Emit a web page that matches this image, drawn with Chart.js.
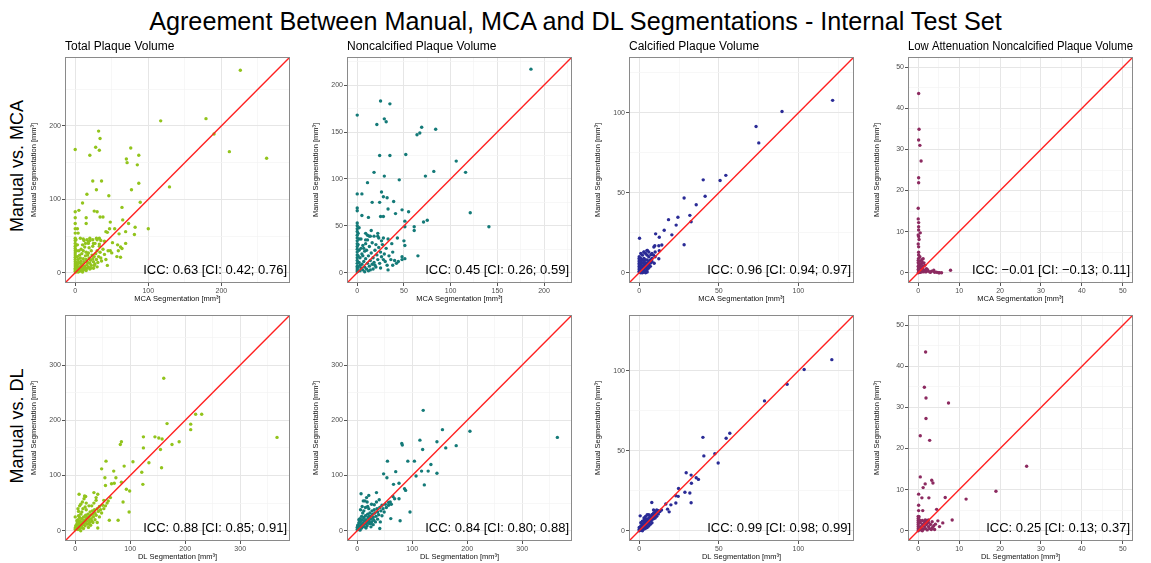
<!DOCTYPE html>
<html>
<head>
<meta charset="utf-8">
<script src="https://cdn.jsdelivr.net/npm/chart.js@4"></script>
<style>
  body { margin: 0; background: #fff; font-family: "Liberation Sans", Arial, Helvetica, sans-serif; }
  #page { position: relative; width: 1151px; height: 563px; overflow: hidden; }
  .main-title { position: absolute; left: 0; top: 6px; width: 1151px; text-align: center; font-size: 25.2px; line-height: 30px; color: #000; }
  .row-label { position: absolute; width: 200px; height: 22px; line-height: 22px; text-align: center; font-size: 18px; color: #000; transform: rotate(-90deg); }
  canvas.panel { position: absolute; }
</style>
</head>
<body>
<div id="page">
  <div class="main-title">Agreement Between Manual, MCA and DL Segmentations - Internal Test Set</div>
</div>
<script>
// ---- labels ----
const panelTitles = ['Total Plaque Volume', 'Noncalcified Plaque Volume', 'Calcified Plaque Volume', 'Low Attenuation Noncalcified Plaque Volume'];
const rowLabels = ['Manual vs. MCA', 'Manual vs. DL'];
const xTitles = ['MCA Segmentation [mm³]', 'DL Segmentation [mm³]'];
const yTitle = 'Manual Segmentation [mm³]';
const iccMca = ['ICC: 0.63 [CI: 0.42; 0.76]', 'ICC: 0.45 [CI: 0.26; 0.59]', 'ICC: 0.96 [CI: 0.94; 0.97]', 'ICC: \u22120.01 [CI: \u22120.13; 0.11]'];
const iccDl = ['ICC: 0.88 [CI: 0.85; 0.91]', 'ICC: 0.84 [CI: 0.80; 0.88]', 'ICC: 0.99 [CI: 0.98; 0.99]', 'ICC: 0.25 [CI: 0.13; 0.37]'];
const seriesColors = ['#92c41c', '#147a78', '#2a2b96', '#8c2a60'];

// ---- axis data ranges (0..max, expanded 5% like ggplot) ----
const dataMaxMca = [280, 219, 128.5, 50];
const dataMaxDl = [372, 372, 128.5, 50];
const majorMca = [[0, 100, 200], [0, 50, 100, 150, 200], [0, 50, 100], [0, 10, 20, 30, 40, 50]];
const minorMca = [[50, 150, 250], [25, 75, 125, 175, 225], [25, 75, 125], [5, 15, 25, 35, 45]];
const majorDl = [[0, 100, 200, 300], [0, 100, 200, 300], [0, 50, 100], [0, 10, 20, 30, 40, 50]];
const minorDl = [[50, 150, 250, 350], [50, 150, 250, 350], [25, 75, 125], [5, 15, 25, 35, 45]];

// ---- points [x, y] : x = automated segmentation, y = manual ----
const tpvMca = [
  [226,276],[117,207],[179,210],[190,189],[211,165],[262,156],[129,117],[0,168],[32,193],[34,183],[28,171],[33,167],[20,160],
  [76,170],[70,155],[71,150],[87,160],[85,147],[87,122],[77,113],[24,125],[36,125],[29,113],[16,107],[46,105],[89,96],[10,95],
  [64,89],[100,60],[0,83],[5,85],[0,75],[15,75],[26,84],[30,83],[34,76],[38,76],[65,72],[73,67],[82,62],[48,69],[44,55],[42,56],
  [47,60],[54,60],[60,53],[81,52],[69,40],[69,56],[51,41],[58,38],[62,35],[48,30],[62,21],[44,10],[15,67],[3,60],[4,54],[20,47],
  [50,27],[59,30],[64,33],[57,22],[7,47],[11,46],[16,45],[20,44],[24,45],[29,47],[33,47],[35,44],[40,43],[33,39],[25,40],[18,40],
  [0,67],[0,60],[0,54],[0,47],[0,2],[0,4],[0,6],[0,9],[0,12],[0,15],[0,18],[0,21],[0,24],[0,27],[0,30],[0,33],[0,36],[0,40],[0,44],
  [1,1],[2,3],[1,8],[2,14],[3,22],[2,30],[3,38],[1,45],[3,3],[4,6],[5,2],[6,8],[7,5],[8,10],[9,4],[10,12],[11,7],[12,15],[13,9],
  [14,6],[15,18],[16,11],[17,14],[18,8],[19,20],[20,13],[21,17],[22,10],[23,24],[24,19],[25,15],[26,22],[27,12],[28,26],[29,18],
  [30,30],[32,22],[34,28],[36,16],[38,32],[40,25],[5,14],[7,20],[9,26],[11,30],[6,24],[4,18],[8,32],[10,38],[13,35],[15,28],[17,24],
  [19,34],[12,44],[14,40],[20,5],[25,6],[30,8],[15,3],[10,1],[22,30],[24,36],[27,40],[30,45],[33,36],[35,20],[42,18],[45,30],[8,16],
  [3,11],[5,30],[18,42],[6,2],[9,7],[12,4],[16,6],[4,1],[2,8],[7,13],[11,19],[14,23],[18,27],[21,6],[26,10],[31,14]
];
const ncpMca = [
  [186,217],[25,183],[35,180],[0,168],[29,164],[31,161],[21,158],[69,155],[84,153],[67,149],[64,147],[24,125],[35,125],[52,126],
  [106,119],[116,107],[82,108],[73,103],[29,103],[18,107],[11,96],[45,99],[121,64],[141,49],[0,84],[5,84],[26,86],[28,81],[32,80],
  [39,76],[24,75],[16,75],[0,69],[0,66],[5,61],[12,59],[25,60],[28,60],[33,68],[41,63],[48,67],[55,65],[51,55],[51,49],[61,49],
  [61,45],[71,54],[75,56],[65,18],[33,3],[50,34],[51,29],[48,17],[51,15],[42,10],[38,8],[43,37],[37,31],[33,36],[28,37],[9,42],
  [13,39],[22,39],[9,35],[0,1],[0,3],[0,5],[0,7],[0,10],[0,13],[0,16],[0,19],[0,22],[0,25],[0,28],[0,31],[0,34],[0,37],[0,40],[0,44],
  [0,47],[0,50],[0,53],[1,2],[1,6],[2,11],[1,18],[2,24],[1,30],[2,36],[1,42],[2,48],[3,2],[4,5],[5,9],[6,3],[7,12],[8,6],[9,15],
  [10,4],[11,10],[12,18],[13,7],[14,13],[15,21],[16,9],[17,16],[18,11],[19,24],[20,6],[21,19],[22,14],[23,27],[24,10],[25,22],
  [26,17],[27,30],[28,14],[29,20],[30,12],[31,26],[32,8],[34,18],[36,14],[38,22],[40,13],[44,12],[48,14],[5,20],[7,26],[9,31],
  [11,35],[11,40],[14,39],[18,39],[23,37],[26,34],[6,29],[8,23],[3,16],[4,26],[13,28],[16,32],[20,30],[22,42],[15,45],[19,8],
  [12,2],[17,4],[25,5],[6,18],[3,8],[8,1],[14,3],[10,24],[4,36]
];
const cpvMca = [
  [121.5,107.8],[89.7,100.8],[73.4,91.5],[75.1,81.2],[54.4,60.9],[50.8,57.7],[40.2,58.1],[41.4,47.8],[28.2,46.7],[35.8,42.5],
  [32.6,31.9],[31.8,35.9],[24.3,34.7],[23.2,29.8],[18.4,33.2],[15.7,26.6],[20.5,23.7],[28.2,17.5],[10.3,24.3],[12.6,22.2],
  [0.2,21.6],[9.8,16.9],[9.2,16.1],[12.3,16.9],[14.2,17.3],[12.6,13.7],[12.3,8.7],[2.9,12.9],[5.0,14.0],[9.4,5.9],[7.3,11.2],
  [0,0.5],[0,1],[0,2],[0,3],[0,4],[0,5],[0,6],[0,7],[0,8],[0,9],[0,10],[1,0.5],[1,1.5],[1,3],[1,5],[1,7],[1,9],[2,1],[2,2.5],
  [2,4],[2,6],[2,8],[3,2],[3,3.5],[3,5],[3,7],[3,9],[4,3],[4,4.5],[4,6],[4,8],[4,12],[5,4],[5,6],[5,8],[5,11],[6,5],[6,7],[6,10],
  [6,13],[7,6],[7,8],[8,7],[8,9],[8,12],[9,11],[10,10],[10,13],[1,12],[2,11],[3,13],[5,14],[2,0],[3,0.5],[4,1],[5,2],[6,3],[7,4],
  [1,0],[2,0.2],[4,0],[5,0.5]
];
const lapMca = [
  [0.1,43.6],[0.2,34.9],[0.1,32.3],[0.4,31.0],[0.7,27.2],[0.1,23.1],[0.1,21.9],[0,15.7],[0,13.1],[0.1,12.2],[0.1,11.2],[0.1,10.4],
  [0.5,9.7],[0.1,8.8],[0.2,8.1],[0.1,6.3],[0.1,5.0],[0.1,4.3],[0.4,3.9],[0.9,3.2],[1.0,2.5],[1.4,2.4],[1.6,1.8],[3.8,0.6],[4.0,0.1],
  [5.0,0],[5.7,0],[7.9,0.6],[0.2,0.1],[0.5,0.3],[0.8,0.5],[1.2,0.2],[1.5,0.6],[2,0.3],[2.4,0.5],[2.8,0.2],[3.3,0.4],[4.5,0.1],
  [5.2,0],[0.3,1],[0.6,1.5],[1,1],[1.2,1.6],[0.2,2],[0.4,2.8],[0.1,3.5],[0.8,2.2],[2,1],[1.8,0.2],[0.1,0.5],[0.3,0.2],[0.1,1.2],
  [0,0],[0,0.8],[0,1.6],[0,2.4],[0,3],[0,7],[0,9.2],[1.2,3.4],[2.2,0.8],[3,0.1],[0.6,0.1],[1.1,0.7]
];
const tpvDl = [
  [161,276],[367,169],[230,211],[219,211],[210,193],[210,183],[167,194],[189,161],[176,156],[145,170],[152,168],[158,166],
  [155,147],[157,114],[124,170],[124,150],[123,84],[134,123],[121,106],[105,125],[89,117],[84,161],[82,156],[56,126],[70,108],
  [48,112],[54,96],[74,96],[66,85],[71,86],[55,82],[84,88],[93,75],[99,72],[87,52],[98,34],[78,19],[34,69],[41,66],[7,66],[17,63],
  [10,48],[52,55],[38,60],[62,19],[41,5],[0,25],[0,2],[0,5],[1,9],[2,4],[3,12],[4,7],[5,2],[6,15],[7,10],[8,5],[9,18],[10,13],
  [11,8],[12,22],[13,16],[14,11],[15,25],[16,19],[17,14],[18,9],[19,28],[20,22],[21,17],[22,12],[23,30],[24,25],[25,20],[26,15],
  [27,34],[28,28],[29,22],[30,18],[31,36],[32,30],[33,25],[35,38],[36,32],[38,28],[40,40],[42,35],[44,44],[46,38],[48,32],[50,46],
  [8,24],[10,30],[12,34],[5,20],[14,40],[18,43],[20,38],[25,45],[6,27],[3,18],[28,10],[32,15],[36,20],[24,6],[15,4],[10,0],[40,15],
  [44,25],[30,45],[34,50],[38,55],[5,40],[8,45],[52,40],[55,45],[58,50],[60,54],[13,52],[16,58],[19,62],[6,35],[20,50],[64,60],
  [2,8],[4,14],[7,4],[9,11],[12,6],[15,12],[18,16],[21,24],[24,12]
];
const ncpDl = [
  [120,218],[364,169],[155,183],[205,180],[114,164],[145,161],[81,158],[82,155],[161,150],[180,154],[119,147],[55,126],[92,126],
  [104,126],[134,120],[117,108],[129,108],[145,104],[107,99],[122,83],[48,103],[70,107],[54,96],[76,86],[66,84],[86,76],[88,73],
  [7,67],[35,69],[96,34],[78,18],[61,22],[41,4],[11,54],[18,52],[57,51],[62,48],[76,58],[68,58],[0,2],[0,6],[1,10],[2,3],[3,14],
  [4,8],[5,1],[6,17],[7,11],[8,5],[9,20],[10,14],[11,8],[12,24],[13,18],[14,12],[15,27],[16,20],[17,15],[18,9],[19,30],[20,24],
  [21,18],[22,13],[23,32],[24,26],[25,21],[26,16],[27,36],[28,30],[29,24],[30,19],[31,38],[32,32],[34,26],[36,40],[37,34],[39,29],
  [41,42],[43,36],[45,46],[47,40],[49,34],[51,48],[8,26],[10,32],[12,36],[5,22],[15,42],[19,44],[21,40],[26,48],[3,20],[29,11],
  [33,16],[37,21],[25,7],[16,5],[42,16],[45,27],[31,47],[35,52],[40,56],[6,38],[9,44],[53,42],[57,46],[60,52],[14,54],[17,60],
  [21,64],[2,9],[4,15],[7,5],[10,12],[13,7],[16,13],[19,17],[22,26],[25,13],[65,62]
];
const cpvDl = [
  [121,107],[103.6,100.8],[92.9,91.6],[78.7,81.2],[56.9,61],[54.6,57.8],[40,58.4],[40.6,46.8],[47.5,48.1],[49.6,42.4],[29.5,36.3],
  [32.6,34.8],[35.8,33.1],[37.2,32.1],[32.8,29.7],[28.7,24.1],[31.8,23.6],[32.6,17.5],[24.7,26.4],[24.5,21.5],[23,21.9],[23,17.3],
  [19.9,16.2],[16.7,16.7],[17.8,13.5],[18.8,11.8],[7.9,17.7],[0.6,9.3],[9,13],[8.2,9.9],[0,0],[0,1],[0,2],[1,0.5],[1,2],[1,3],
  [2,1],[2,2.5],[2,4],[3,2],[3,3.5],[3,5],[4,3],[4,4.5],[4,6],[5,4],[5,5.5],[5,7],[6,5],[6,6.5],[6,8],[7,6],[7,7.5],[7,9],[8,7],
  [8,8.5],[8,10],[9,7.5],[9,9],[9,11],[10,8],[10,10],[10,12],[11,9],[11,11],[12,10.5],[12,12.5],[1,5],[2,6],[3,8],[4,9],[5,10],
  [2,0],[3,1],[4,1.5],[5,2],[6,3],[7,4],[8,5],[13,12],[14,13],[11,13],[3,6.5],[4,7.5],[6,10],[0.5,0.5],[1.5,1.5]
];
const lapDl = [
  [1.8,43.5],[1.5,34.9],[1.9,32.3],[7.4,31.1],[1.9,27.3],[0.5,23.1],[2.8,22.0],[26.5,15.7],[0.5,13.1],[3.3,12.3],[3.6,11.6],
  [1.7,11.4],[1.2,10.5],[19,9.6],[0.1,8.9],[0.9,8.0],[2.6,8.0],[6.6,8.1],[11.7,7.7],[0.1,6.2],[4.5,5.2],[0.1,4.9],[1.1,4.9],
  [0.2,3.4],[4.8,2.4],[8.3,2.6],[6,1.9],[5.2,1.0],[0,0],[0,0.5],[0,1],[0,1.5],[0,2],[0,2.5],[0,3],[0,3.5],[0.5,0.2],[0.5,1],
  [0.5,2],[0.8,0.6],[1,1.5],[1,2.5],[1.2,0.3],[1.5,1],[1.5,2],[1.8,0.5],[2,1.5],[2,2.5],[2.2,0.2],[2.5,1],[2.5,2],[2.8,0.5],
  [3,1.5],[3.2,0.3],[3.5,0.8],[3.8,1.2],[4,0.3],[2.5,2.6],[0.3,2.6],[1,0],[1.7,2.6],[3.4,2.2],[2.2,1.8],[4.2,1.6]
];
const pointsMca = [tpvMca, ncpMca, cpvMca, lapMca];
const pointsDl = [tpvDl, ncpDl, cpvDl, lapDl];

// ---- layout ----
const FONT = '"Liberation Sans", Arial, Helvetica, sans-serif';
const plotLeft = [65, 347, 629, 908];
const plotTop = [57, 315];
const plotW = 225, plotH = 226;
const padL = 36, padT = 17, padB = 20, padR = 16;

Chart.defaults.font.family = FONT;

// panel box (theme_bw) and ICC label
const panelDecor = {
  id: 'panelDecor',
  afterDatasetsDraw(chart, args, opts) {
    const { ctx, chartArea: a } = chart;
    ctx.save();
    ctx.strokeStyle = '#8a8a8a';
    ctx.lineWidth = 1;
    ctx.strokeRect(a.left + 0.5, a.top + 0.5, a.width - 1, a.height - 1);
    ctx.font = '13px ' + FONT;
    ctx.fillStyle = '#000';
    ctx.textAlign = 'right';
    ctx.textBaseline = 'alphabetic';
    ctx.fillText(opts.text, a.right - 3, a.bottom - 9);
    ctx.restore();
  }
};

const page = document.getElementById('page');

rowLabels.forEach((txt, r) => {
  const d = document.createElement('div');
  d.className = 'row-label';
  d.textContent = txt;
  const cy = [166, 426][r];
  d.style.left = (17 - 100) + 'px';
  d.style.top = (cy - 11) + 'px';
  page.appendChild(d);
});

function axis(lo, hi, major, minor, title, isX) {
  const all = [...major, ...minor].sort((a, b) => a - b);
  return {
    type: 'linear',
    min: lo,
    max: hi,
    afterBuildTicks: s => { s.ticks = all.map(v => ({ value: v })); },
    afterFit: s => { if (isX) s.height = padB; else s.width = padL; },
    ticks: {
      autoSkip: false, maxRotation: 0, padding: 1,
      font: { size: 7 }, color: '#4d4d4d',
      callback: v => major.includes(v) ? String(v) : ''
    },
    grid: {
      color: c => major.includes(c.tick.value) ? '#e6e6e6' : '#f3f3f3',
      lineWidth: c => major.includes(c.tick.value) ? 1 : 0.7,
      tickLength: 3,
      tickColor: c => major.includes(c.tick.value) ? '#555' : 'rgba(0,0,0,0)'
    },
    border: { display: false },
    title: { display: true, text: title, font: { size: 7.5 }, color: '#111', padding: 0 }
  };
}

function makePanel(r, c) {
  const max = (r === 0 ? dataMaxMca : dataMaxDl)[c];
  const lo = -0.05 * max, hi = 1.05 * max;
  const major = (r === 0 ? majorMca : majorDl)[c];
  const minor = (r === 0 ? minorMca : minorDl)[c];
  const pts = (r === 0 ? pointsMca : pointsDl)[c];
  const showTitle = r === 0;

  const w = padL + plotW + padR, h = padT + plotH + padB;
  const cv = document.createElement('canvas');
  cv.className = 'panel';
  cv.width = w;
  cv.height = h;
  cv.style.left = (plotLeft[c] - padL) + 'px';
  cv.style.top = (plotTop[r] - padT) + 'px';
  cv.style.width = w + 'px';
  cv.style.height = h + 'px';
  page.appendChild(cv);

  new Chart(cv, {
    type: 'scatter',
    data: {
      datasets: [
        {
          data: pts.map(([x, y]) => ({ x, y })),
          backgroundColor: seriesColors[c],
          borderColor: seriesColors[c],
          pointRadius: 1.7,
          borderWidth: 0,
          order: 1
        },
        {
          // identity line y = x across the full panel
          type: 'line',
          data: [{ x: lo, y: lo }, { x: hi, y: hi }],
          borderColor: '#ff2020',
          backgroundColor: '#ff2020',
          borderWidth: 1.4,
          pointRadius: 0,
          fill: false,
          order: 0
        }
      ]
    },
    options: {
      responsive: false,
      animation: false,
      devicePixelRatio: 1,
      events: [],
      layout: { padding: { left: 0, top: showTitle ? 0 : padT, right: padR, bottom: 0 } },
      plugins: {
        legend: { display: false },
        tooltip: { enabled: false },
        title: {
          display: showTitle, text: panelTitles[c], align: 'start', fullSize: false,
          color: '#000', font: { size: 12, weight: 'normal', lineHeight: 14 / 12 },
          padding: { top: 0, bottom: 3 }
        },
        panelDecor: { text: (r === 0 ? iccMca : iccDl)[c] }
      },
      scales: {
        x: axis(lo, hi, major, minor, xTitles[r], true),
        y: axis(lo, hi, major, minor, yTitle, false)
      }
    },
    plugins: [panelDecor]
  });
}

for (let r = 0; r < 2; r++) {
  for (let c = 0; c < 4; c++) makePanel(r, c);
}
</script>
</body>
</html>
